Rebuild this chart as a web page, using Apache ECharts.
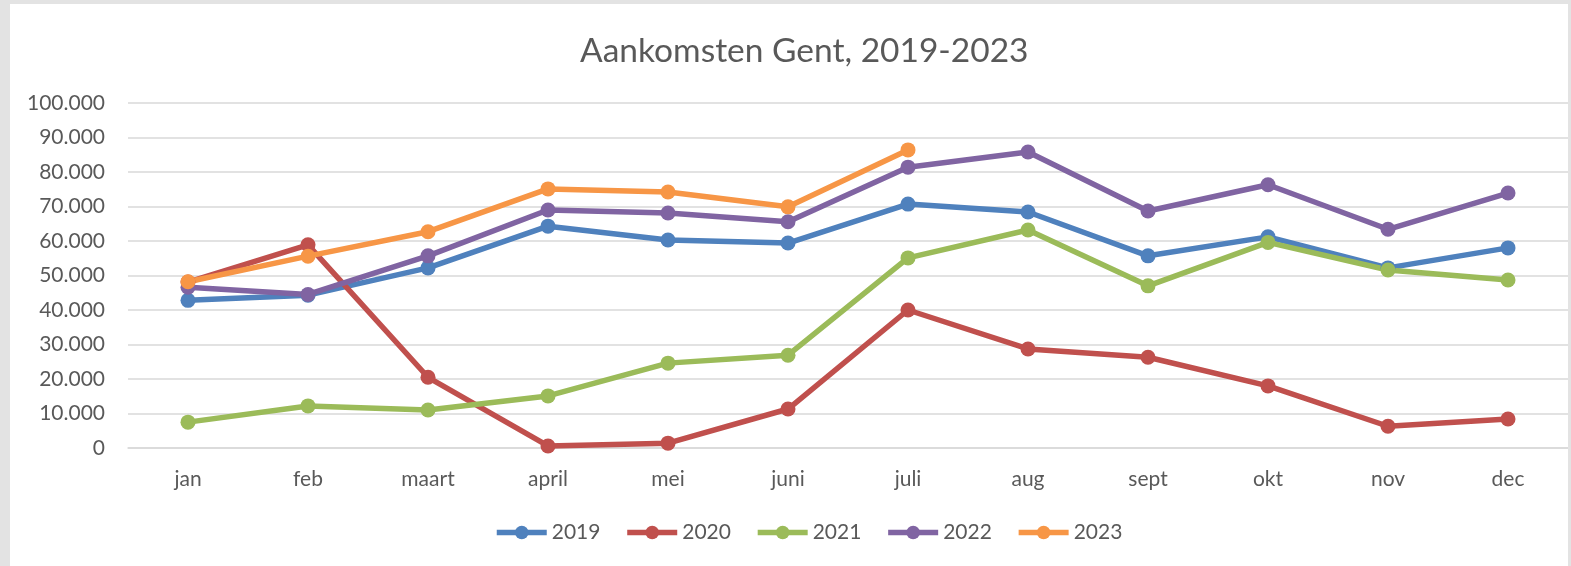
<!DOCTYPE html>
<html>
<head>
<meta charset="utf-8">
<script src="https://cdn.jsdelivr.net/npm/echarts@6/dist/echarts.min.js"></script>
<style>
  html, body { margin: 0; padding: 0; background: #e3e3e3; width: 1571px; height: 566px; overflow: hidden; }
  #chart { position: absolute; left: 10px; top: 4px; width: 1558px; height: 562px; background: #fff; }
</style>
</head>
<body>
<div id="chart"></div>
<script>
const months = ['jan', 'feb', 'maart', 'april', 'mei', 'juni', 'juli', 'aug', 'sept', 'okt', 'nov', 'dec'];

const arrivals2019 = [42800, 44300, 52200, 64300, 60300, 59400, 70700, 68400, 55700, 61200, 52200, 58000];
const arrivals2020 = [48100, 58900, 20500, 600, 1400, 11300, 40000, 28700, 26300, 18000, 6300, 8400];
const arrivals2021 = [7500, 12200, 11000, 15100, 24600, 26900, 55100, 63200, 47000, 59600, 51600, 48700];
const arrivals2022 = [46600, 44500, 55700, 69000, 68100, 65600, 81400, 85800, 68700, 76300, 63400, 73900];
const arrivals2023 = [48200, 55600, 62700, 75100, 74200, 69900, 86400, null, null, null, null, null];

const years = ['2019', '2020', '2021', '2022', '2023'];
const colors = ['#4f81bd', '#c0504d', '#9bbb59', '#8064a2', '#f79646'];
const seriesData = [arrivals2019, arrivals2020, arrivals2021, arrivals2022, arrivals2023];

const font = 'Lato';
const textColor = '#595959';

// 100000 -> 100.000
function formatNumber(v) {
  return String(v).replace(/\B(?=(\d{3})+(?!\d))/g, '.');
}

const chart = echarts.init(document.getElementById('chart'));

const options = {
  animation: false,
  backgroundColor: '#fff',
  color: colors,
  title: {
    text: 'Aankomsten Gent, 2019-2023',
    left: 565,
    top: 25,
    textStyle: {
      fontFamily: font,
      fontSize: 33.5,
      fontWeight: 'normal',
      color: textColor,
    },
  },
  legend: {
    left: 479,
    top: 513,
    itemWidth: 50,
    itemHeight: 17,
    itemGap: 24,
    lineStyle: { width: 5.5 },
    textStyle: {
      fontFamily: font,
      fontSize: 21,
      color: textColor,
    },
    data: years,
  },
  grid: {
    left: 118,
    right: 0,
    top: 99,
    bottom: 118,
    containLabel: false,
  },
  xAxis: {
    type: 'category',
    data: months,
    boundaryGap: true,
    axisLine: { lineStyle: { color: '#d9d9d9', width: 1.5 } },
    axisTick: { show: false },
    axisLabel: {
      margin: 21,
      fontFamily: font,
      fontSize: 21,
      color: textColor,
    },
  },
  yAxis: {
    type: 'value',
    min: 0,
    max: 100000,
    interval: 10000,
    axisLine: { show: false },
    axisTick: { show: false },
    splitLine: { lineStyle: { color: '#d9d9d9', width: 1.5 } },
    axisLabel: {
      margin: 23,
      fontFamily: font,
      fontSize: 21,
      color: textColor,
      formatter: formatNumber,
    },
  },
  series: years.map((year, i) => ({
    name: year,
    type: 'line',
    data: seriesData[i],
    symbol: 'circle',
    symbolSize: 15,
    showSymbol: true,
    connectNulls: false,
    lineStyle: { width: 5.5, color: colors[i] },
    itemStyle: { color: colors[i] },
  })),
};

chart.setOption(options);
</script>
</body>
</html>
